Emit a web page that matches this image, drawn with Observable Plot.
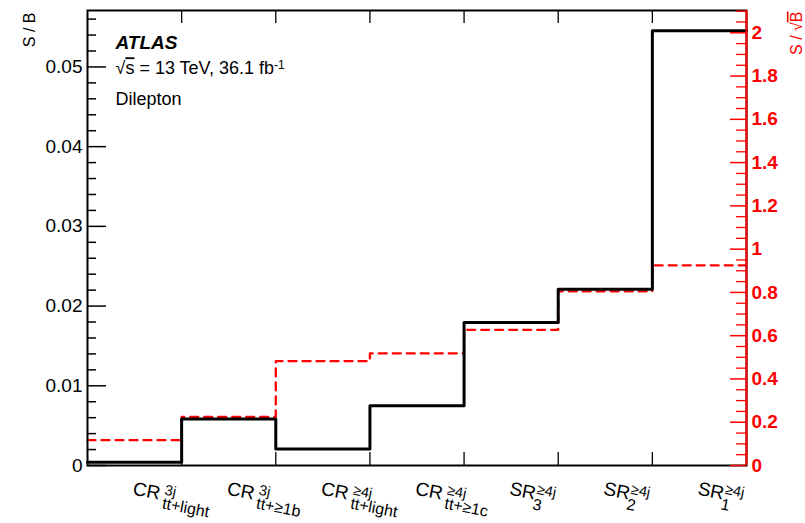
<!DOCTYPE html>
<html><head><meta charset="utf-8">
<script src="https://cdn.jsdelivr.net/npm/d3@7"></script>
<script src="https://cdn.jsdelivr.net/npm/@observablehq/plot@0.6"></script>
<style>
body{margin:0;background:#fff;}
svg{font-family:"Liberation Sans",Arial,Helvetica,sans-serif;}
</style>
</head><body><div id="chart"></div>
<script>
// ---- data ----
const regionMain = ["CR","CR","CR","CR","SR","SR","SR"];
const regionSup  = ["3j","3j","≥4j","≥4j","≥4j","≥4j","≥4j"];
const regionSub  = ["tt+light","tt+≥1b","tt+light","tt+≥1c","3","2","1"];
const sOverB      = [0.0004, 0.00583, 0.00207, 0.0075, 0.01795, 0.0221, 0.05454];
const sOverSqrtB  = [0.117, 0.2245, 0.482, 0.518, 0.627, 0.805, 0.925];
const leftTicks       = [0, 0.01, 0.02, 0.03, 0.04, 0.05];
const leftTickLabels  = ["0","0.01","0.02","0.03","0.04","0.05"];
const rightTicks      = [0,0.2,0.4,0.6,0.8,1,1.2,1.4,1.6,1.8,2];
const rightTickLabels = ["0","0.2","0.4","0.6","0.8","1","1.2","1.4","1.6","1.8","2"];
const binEdges = [1,2,3,4,5,6];
const leftMax = 0.05708, rightMax = 2.103;

// ---- layout ----
const W = 805, H = 523;
const mL = 87, mR = 59, mT = 10, mB = 58;
const fw = W - mL - mR, fh = H - mT - mB;
const k = leftMax / rightMax;

const leftMinor = d3.range(0, leftMax, 0.002).filter(v => Math.abs(v*100 - Math.round(v*100)) > 1e-6);
const rightMinor = d3.range(0, rightMax, 0.05).filter(v => Math.abs(v*5 - Math.round(v*5)) > 1e-6);

const step = vals => vals.map((v,i)=>({x:i, v})).concat([{x:vals.length, v:vals[vals.length-1]}]);
const idx = d3.range(regionMain.length);

const svg = Plot.plot({
  width: W, height: H,
  marginLeft: mL, marginRight: mR, marginTop: mT, marginBottom: mB,
  x: {domain: [0, 7], axis: null},
  y: {domain: [0, leftMax], axis: null},
  style: {fontFamily: '"Liberation Sans",Arial,sans-serif', background: "white"},
  marks: [
    Plot.line(step(sOverSqrtB), {x: "x", y: d => d.v * k, curve: "step-after", stroke: "#ff0000", strokeWidth: 2.3, strokeDasharray: "8,6"}),
    Plot.line(step(sOverB), {x: "x", y: "v", curve: "step-after", stroke: "black", strokeWidth: 3}),
    Plot.frame({stroke: "black", strokeWidth: 2}),
    // left axis ticks
    Plot.ruleY(leftMinor, {y: d => d, stroke: "black", strokeWidth: 1.5, insetRight: fw - 9}),
    Plot.ruleY(leftTicks, {y: d => d, stroke: "black", strokeWidth: 1.5, insetRight: fw - 19}),
    Plot.text(leftTicks, {y: d => d, text: (d,i) => leftTickLabels[i], frameAnchor: "left", textAnchor: "end", dx: -5, fontSize: 19, fill: "black"}),
    // bin edge ticks
    Plot.ruleX(binEdges, {x: d => d, stroke: "black", strokeWidth: 1.3, insetTop: fh - 13}),
    Plot.ruleX(binEdges, {x: d => d, stroke: "black", strokeWidth: 1.3, insetBottom: fh - 13}),
    // right axis
    Plot.ruleX([7], {x: d => d, stroke: "#ff0000", strokeWidth: 2}),
    Plot.ruleY(rightMinor, {y: d => d * k, stroke: "#ff0000", strokeWidth: 1.3, insetLeft: fw - 10}),
    Plot.ruleY(rightTicks, {y: d => d * k, stroke: "#ff0000", strokeWidth: 1.5, insetLeft: fw - 16}),
    Plot.text(rightTicks, {y: d => d * k, text: (d,i) => rightTickLabels[i], frameAnchor: "right", textAnchor: "start", dx: 5, fontSize: 19, fontWeight: "bold", fill: "#ff0000"}),
    // x category labels
    Plot.text(idx, {x: i => i + 0.5, text: i => regionMain[i], frameAnchor: "bottom", textAnchor: "start", rotate: 11, dx: -2.5, dy: 29, fontSize: 19, fill: "black", ariaDescription: "xlabels"}),
    // axis titles
    Plot.text(["S / B"], {frameAnchor: "top-left", text: d => d, rotate: -90, textAnchor: "end", dx: -64, dy: 2, fontSize: 16, fill: "black"}),
    Plot.text(["S / √B"], {frameAnchor: "top-right", text: d => d, rotate: -90, textAnchor: "end", dx: 44, dy: 1, fontSize: 16, fill: "#ff0000", ariaDescription: "ytitle-right"}),
    // ATLAS labels
    Plot.text(["ATLAS"], {frameAnchor: "top-left", text: d => d, textAnchor: "start", lineAnchor: "top", dx: 28, dy: 25, fontSize: 19, fontWeight: "bold", fontStyle: "italic", fill: "black"}),
    Plot.text(["√s = 13 TeV, 36.1 fb"], {frameAnchor: "top-left", text: d => d, textAnchor: "start", lineAnchor: "top", dx: 28, dy: 51, fontSize: 18, fill: "black", ariaDescription: "energy"}),
    Plot.text(["Dilepton"], {frameAnchor: "top-left", text: d => d, textAnchor: "start", lineAnchor: "top", dx: 28, dy: 82, fontSize: 18, fill: "black"})
  ]
});
document.getElementById("chart").append(svg);

function groupTexts(desc, fallbackTest) {
  let sel = d3.select(svg).selectAll(`g[aria-description="${desc}"] text`);
  if (sel.empty()) sel = d3.select(svg).selectAll("text").filter(fallbackTest);
  return sel;
}

// rich text: superscripts / subscripts
groupTexts("xlabels", function() { return /rotate\(11/.test(this.getAttribute("transform") || ""); })
  .each(function(_, i) {
    const t = d3.select(this);
    t.attr("y", null).attr("dy", null).text(null);
    const main = t.append("tspan").attr("x", 0).attr("y", 0).text(regionMain[i]);
    const w = main.node().getComputedTextLength();
    const isCR = regionMain[i] === "CR";
    t.append("tspan").attr("x", w + (isCR ? 4 : 0.5)).attr("y", -6).attr("font-size", 14.5).text(regionSup[i]);
    t.append("tspan").attr("x", w + (isCR ? 4 : -1)).attr("y", isCR ? 8 : 10).attr("font-size", 16).text(regionSub[i]);
  });
groupTexts("energy", function() { return (this.textContent || "").startsWith("√s"); })
  .each(function() {
    const t = d3.select(this);
    t.text(null);
    t.append("tspan").text("√");
    t.append("tspan").style("text-decoration", "overline").text("s");
    t.append("tspan").text(" = 13 TeV, 36.1 fb");
    t.append("tspan").attr("dy", "-0.45em").attr("font-size", 12).text("-1");
  });
groupTexts("ytitle-right", function() { return (this.textContent || "") === "S / √B"; })
  .each(function() {
    const t = d3.select(this);
    t.text(null);
    t.append("tspan").text("S / √");
    t.append("tspan").style("text-decoration", "overline").text("B");
  });
</script>
</body></html>
